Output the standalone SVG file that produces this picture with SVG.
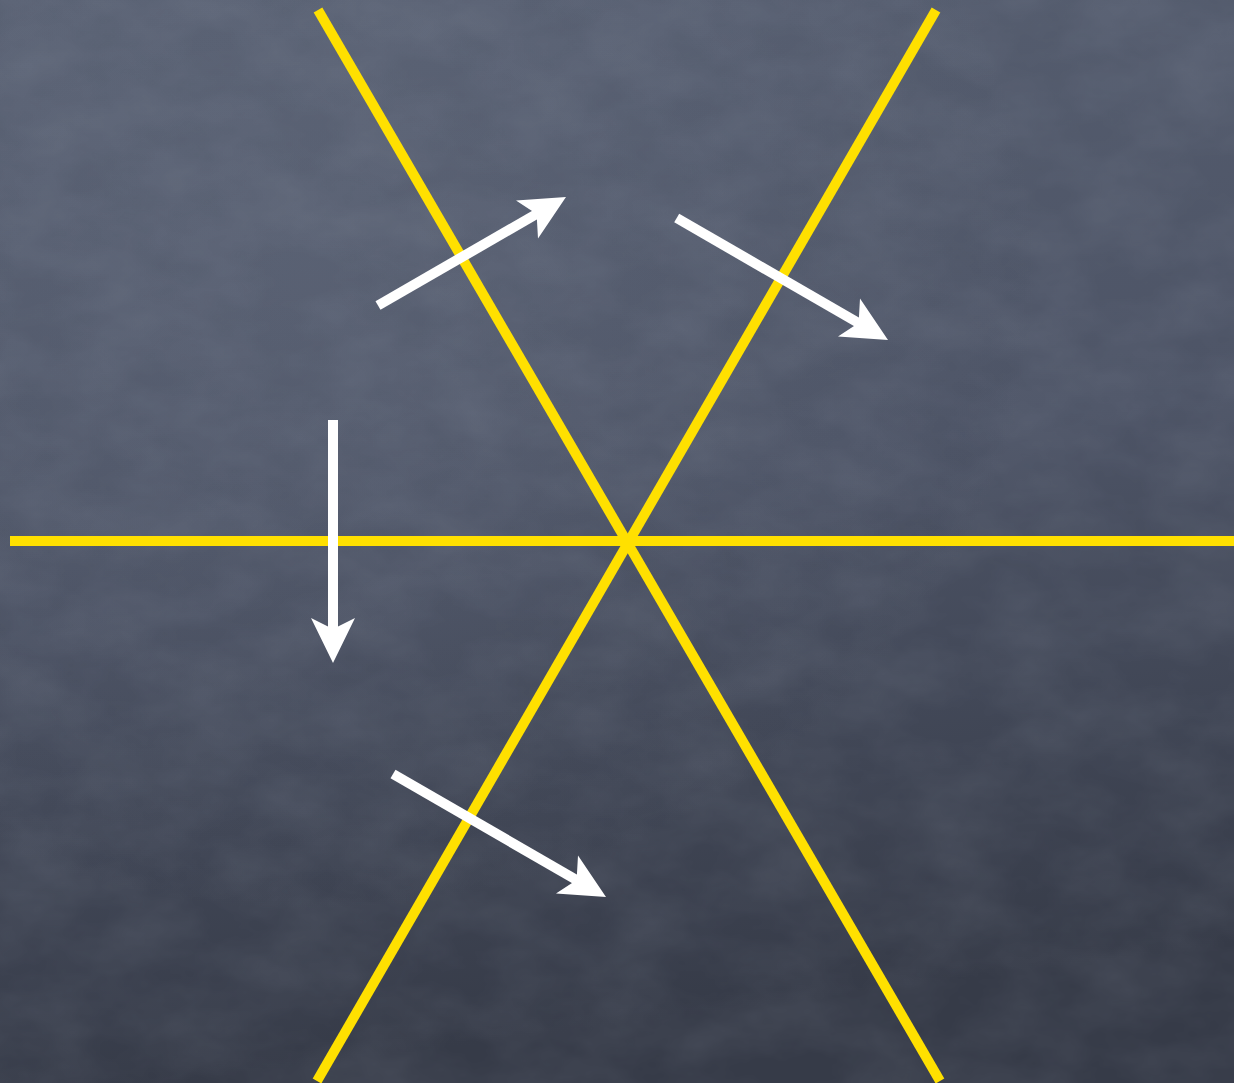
<svg xmlns="http://www.w3.org/2000/svg" width="1234" height="1083" viewBox="0 0 1234 1083">
  <defs>
    <linearGradient id="bg" x1="0" y1="0" x2="0.15" y2="1">
      <stop offset="0" stop-color="#565e70"/>
      <stop offset="0.5" stop-color="#4d5466"/>
      <stop offset="1" stop-color="#363b48"/>
    </linearGradient>
    <radialGradient id="glow" cx="0.25" cy="0.25" r="0.6">
      <stop offset="0" stop-color="#8a93a5" stop-opacity="0.14"/>
      <stop offset="1" stop-color="#8a93a5" stop-opacity="0"/>
    </radialGradient>
    <filter id="chalk" x="0" y="0" width="100%" height="100%">
      <feTurbulence type="fractalNoise" baseFrequency="0.012 0.02" numOctaves="4" seed="3"/>
      <feColorMatrix type="matrix" values="0 0 0 0 0.6  0 0 0 0 0.65  0 0 0 0 0.75  0 0 0 0.3 -0.08"/>
    </filter>
    <style>
      .axis { stroke: #ffe000; stroke-width: 10; fill: none; }
      .shaft { stroke: #ffffff; stroke-width: 10; fill: none; }
      .head { fill: #ffffff; stroke: none; }
    </style>
  </defs>

  <g id="background">
    <rect width="1234" height="1083" fill="url(#bg)"/>
    <rect width="1234" height="1083" fill="url(#glow)"/>
    <rect width="1234" height="1083" filter="url(#chalk)" opacity="0.45"/>
  </g>

  <g id="axes">
    <line class="axis" x1="10" y1="541" x2="1234" y2="541"/>
    <line class="axis" x1="318" y1="10" x2="940" y2="1081"/>
    <line class="axis" x1="936" y1="10" x2="317" y2="1081"/>
  </g>

  <g id="arrows">
    <g id="arrow1">
      <line class="shaft" x1="378" y1="305.5" x2="540" y2="212"/>
      <polygon class="head" points="566,197 516,200.5 536.6,214 538,238.6"/>
    </g>
    <g id="arrow2">
      <line class="shaft" x1="676.7" y1="218" x2="862" y2="325"/>
      <polygon class="head" points="888,340 860,298.5 858.6,323 838,336.5"/>
    </g>
    <g id="arrow3">
      <line class="shaft" x1="333" y1="420" x2="333" y2="633"/>
      <polygon class="head" points="333,663 355,618 333,629 311,618"/>
    </g>
    <g id="arrow4">
      <line class="shaft" x1="393" y1="774" x2="580" y2="882"/>
      <polygon class="head" points="606,897 578,855.5 576.6,880 556,893.5"/>
    </g>
  </g>
</svg>
